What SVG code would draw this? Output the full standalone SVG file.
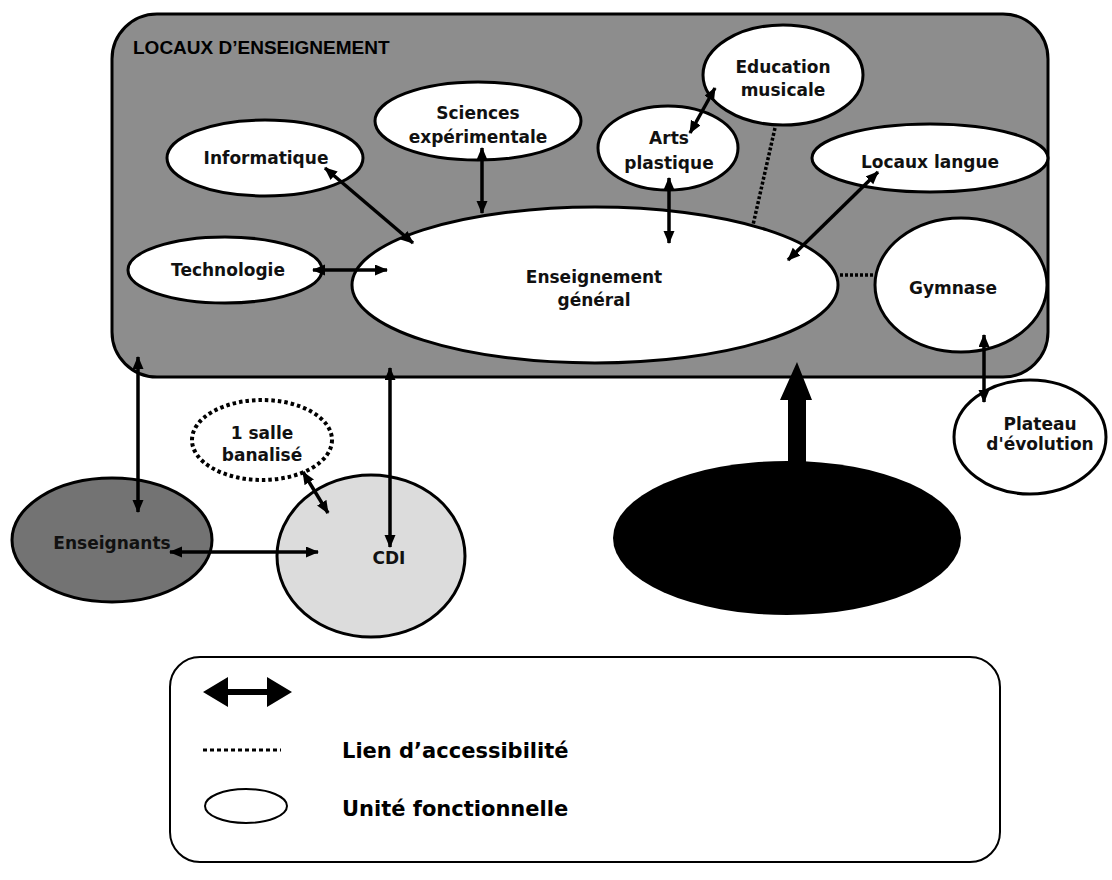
<svg xmlns="http://www.w3.org/2000/svg" width="1112" height="880" viewBox="0 0 1112 880">
<defs>
<marker id="ah" markerUnits="userSpaceOnUse" markerWidth="14" markerHeight="12" refX="12" refY="5.5" orient="auto-start-reverse" viewBox="0 0 14 12">
<path d="M0,0 L13,5.5 L0,11 z" fill="#000"/>
</marker>
<style>
.unit{fill:#fff;stroke:#000;stroke-width:3}
.lbl{font-family:"DejaVu Sans",Verdana,sans-serif;font-weight:bold;font-size:17px;fill:#111;text-anchor:middle}
.arr{stroke:#000;stroke-width:3.5;fill:none;marker-start:url(#ah);marker-end:url(#ah)}
.dot{stroke:#000;stroke-width:3.5;fill:none;stroke-dasharray:3 2}
.leg{font-family:"DejaVu Sans",Verdana,sans-serif;font-weight:bold;font-size:21px;fill:#000}
</style>
</defs>
<rect width="1112" height="880" fill="#fff"/>

<g id="locaux">
<rect x="112" y="14" width="936" height="363" rx="45" ry="45" fill="#8d8d8d" stroke="#000" stroke-width="3"/>
<text x="133" y="54" font-family="Liberation Sans, Arial, sans-serif" font-weight="bold" font-size="19" fill="#000">LOCAUX D’ENSEIGNEMENT</text>
</g>

<g id="enseignement-general">
<ellipse class="unit" cx="595" cy="285" rx="243" ry="78"/>
<text class="lbl" x="594" y="283" font-size="16">Enseignement</text>
<text class="lbl" x="594" y="306" font-size="16">général</text>
</g>
<g id="informatique">
<ellipse class="unit" cx="265" cy="158" rx="98" ry="38"/>
<text class="lbl" x="266" y="164">Informatique</text>
</g>
<g id="sciences">
<ellipse class="unit" cx="478" cy="121" rx="103" ry="39"/>
<text class="lbl" x="478" y="119">Sciences</text>
<text class="lbl" x="478" y="143">expérimentale</text>
</g>
<g id="arts">
<ellipse class="unit" cx="668" cy="148" rx="70" ry="42"/>
<text class="lbl" x="669" y="144">Arts</text>
<text class="lbl" x="669" y="169">plastique</text>
</g>
<g id="education">
<ellipse class="unit" cx="783" cy="75" rx="80" ry="50"/>
<text class="lbl" x="783" y="73">Education</text>
<text class="lbl" x="783" y="96">musicale</text>
</g>
<g id="langue">
<ellipse class="unit" cx="930" cy="158" rx="118" ry="34"/>
<text class="lbl" x="930" y="168">Locaux langue</text>
</g>
<g id="technologie">
<ellipse class="unit" cx="225" cy="270" rx="97" ry="33"/>
<text class="lbl" x="228" y="276">Technologie</text>
</g>
<g id="gymnase">
<ellipse class="unit" cx="961" cy="285" rx="86" ry="67"/>
<text class="lbl" x="953" y="294">Gymnase</text>
</g>
<g id="plateau">
<ellipse class="unit" cx="1030" cy="437" rx="76" ry="57"/>
<text class="lbl" x="1040" y="430">Plateau</text>
<text class="lbl" x="1040" y="450">d'évolution</text>
</g>
<g id="salle">
<ellipse cx="262" cy="440" rx="70" ry="40" fill="#fff" stroke="#000" stroke-width="4" stroke-dasharray="3.5 3"/>
<text class="lbl" x="262" y="439">1 salle</text>
<text class="lbl" x="262" y="461">banalisé</text>
</g>
<g id="enseignants">
<ellipse cx="112" cy="540" rx="100" ry="62" fill="#737373" stroke="#000" stroke-width="3"/>
<text class="lbl" x="112" y="549" fill="#222">Enseignants</text>
</g>
<g id="cdi">
<ellipse cx="371" cy="556" rx="94" ry="81" fill="#dcdcdc" stroke="#000" stroke-width="3"/>
<text class="lbl" x="389" y="564">CDI</text>
</g>
<g id="bloc-noir">
<ellipse cx="787" cy="538" rx="174" ry="77" fill="#000"/>
</g>

<g id="connectors">
<line class="arr" x1="325" y1="168" x2="413" y2="243"/>
<line class="arr" x1="482" y1="148" x2="482" y2="213"/>
<line class="arr" x1="669" y1="178" x2="669" y2="243"/>
<line class="arr" x1="715" y1="88" x2="690" y2="133"/>
<line class="arr" x1="878" y1="172" x2="788" y2="260"/>
<line class="arr" x1="313" y1="270" x2="387" y2="270"/>
<line class="dot" x1="775" y1="128" x2="753" y2="225"/>
<line class="dot" x1="840" y1="275" x2="876" y2="275"/>
<line class="arr" x1="984" y1="335" x2="984" y2="402"/>
<line class="arr" x1="138" y1="357" x2="138" y2="512"/>
<line class="arr" x1="390" y1="368" x2="390" y2="547"/>
<line class="arr" x1="170" y1="552" x2="318" y2="552"/>
<line class="arr" x1="303" y1="472" x2="328" y2="513"/>
<polygon points="788,463 788,400 780,400 797,362 812,400 806,400 806,463" fill="#000"/>
</g>

<g id="legende">
<rect x="170" y="657" width="830" height="205" rx="30" ry="30" fill="#fff" stroke="#000" stroke-width="2"/>
<polygon points="203,692 228,677 228,689 267,689 267,677 292,692 267,707 267,695 228,695 228,707" fill="#000"/>
<line x1="203" y1="750" x2="281" y2="750" stroke="#000" stroke-width="3" stroke-dasharray="4 3"/>
<ellipse cx="246" cy="806" rx="41" ry="17" fill="#fff" stroke="#000" stroke-width="2"/>
<text class="leg" x="342" y="758">Lien d’accessibilité</text>
<text class="leg" x="342" y="816">Unité fonctionnelle</text>
</g>
</svg>
